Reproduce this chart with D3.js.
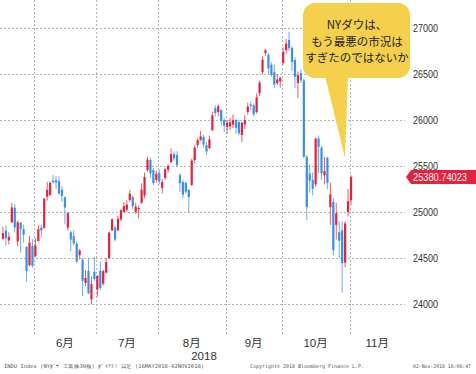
<!DOCTYPE html>
<meta charset="utf-8">
<style>
body { margin: 0; background: #fff; }
svg { display: block; font-family: "Liberation Sans", Arial, "Noto Sans CJK JP", sans-serif; }
.grid line { stroke: #b4b4b4; stroke-dasharray: 2,2; shape-rendering: crispEdges; }
.ylab { font-size: 11px; fill: #333; }
.mlab { font-size: 11.5px; fill: #333; }
.foot { font-size: 5px; fill: #555; font-family: "DejaVu Sans Mono", monospace; }
.note { font-family: "Noto Sans CJK JP", sans-serif; font-size: 11.5px; fill: #222; }
</style>
<body>
<script src="https://cdn.jsdelivr.net/npm/d3@7"></script>
<script>
// INDU Index daily candles, 16 May 2018 - 1 Nov 2018 (trading days only)
var dates = [
  "2018-05-16","2018-05-17","2018-05-18","2018-05-21","2018-05-22","2018-05-23","2018-05-24","2018-05-25","2018-05-29","2018-05-30","2018-05-31",
  "2018-06-01","2018-06-04","2018-06-05","2018-06-06","2018-06-07","2018-06-08","2018-06-11","2018-06-12","2018-06-13","2018-06-14","2018-06-15","2018-06-18","2018-06-19","2018-06-20","2018-06-21","2018-06-22","2018-06-25","2018-06-26","2018-06-27","2018-06-28","2018-06-29",
  "2018-07-02","2018-07-03","2018-07-05","2018-07-06","2018-07-09","2018-07-10","2018-07-11","2018-07-12","2018-07-13","2018-07-16","2018-07-17","2018-07-18","2018-07-19","2018-07-20","2018-07-23","2018-07-24","2018-07-25","2018-07-26","2018-07-27","2018-07-30","2018-07-31",
  "2018-08-01","2018-08-02","2018-08-03","2018-08-06","2018-08-07","2018-08-08","2018-08-09","2018-08-10","2018-08-13","2018-08-14","2018-08-15","2018-08-16","2018-08-17","2018-08-20","2018-08-21","2018-08-22","2018-08-23","2018-08-24","2018-08-27","2018-08-28","2018-08-29","2018-08-30","2018-08-31",
  "2018-09-04","2018-09-05","2018-09-06","2018-09-07","2018-09-10","2018-09-11","2018-09-12","2018-09-13","2018-09-14","2018-09-17","2018-09-18","2018-09-19","2018-09-20","2018-09-21","2018-09-24","2018-09-25","2018-09-26","2018-09-27","2018-09-28",
  "2018-10-01","2018-10-02","2018-10-03","2018-10-04","2018-10-05","2018-10-08","2018-10-09","2018-10-10","2018-10-11","2018-10-12","2018-10-15","2018-10-16","2018-10-17","2018-10-18","2018-10-19","2018-10-22","2018-10-23","2018-10-24","2018-10-25","2018-10-26","2018-10-29","2018-10-30","2018-10-31",
  "2018-11-01"
];
var open = [
  24710,24800,24690,24890,25047,24680,24884,24813,24620,24422,24630,
  24521,24684,24830,24826,25166,25185,25340,25346,25337,25240,25160,24830,24780,24737,24656,24530,24480,24230,24360,24050,24350,
  24160,24360,24220,24340,24500,24800,24830,24800,24920,25000,25025,25130,25163,25000,25030,25100,25180,25456,25565,25456,25348,
  25420,25261,25370,25460,25543,25630,25620,25400,25326,25315,25240,25294,25565,25728,25783,25815,25728,25695,25891,26130,26087,26108,26000,
  25924,25930,25950,26000,25978,25837,25950,26087,26170,26160,26087,26293,26522,26728,26706,26600,26520,26402,26420,
  26620,26761,26870,26783,26652,26402,26511,26430,25600,25420,25350,25300,25800,25700,25400,25590,25054,25110,24860,24780,24800,24450,25000,
  25130
];
var high = [
  24840,24858,24779,25100,25086,24906,24890,24863,24630,24742,24704,
  24716,24856,24860,25147,25325,25335,25402,25390,25387,25280,25170,25000,24800,24800,24680,24600,24500,24370,24500,24300,24510,
  24315,24460,24370,24500,24780,24930,24850,24960,25030,25110,25130,25240,25180,25100,25070,25310,25430,25600,25590,25480,25450,
  25460,25360,25480,25520,25692,25660,25660,25420,25350,25330,25250,25580,25720,25800,25880,25840,25760,25830,26090,26160,26170,26120,26020,
  26000,26020,26060,26010,26000,25980,26050,26190,26200,26180,26290,26430,26690,26770,26730,26630,26600,26500,26470,
  26790,26880,26957,26800,26680,26530,26550,26450,25620,25520,25430,25810,25830,25720,25600,25600,25320,25150,25100,24900,24900,24900,25250,
  25400
];
var low = [
  24690,24634,24646,24880,24776,24626,24558,24664,24241,24410,24393,
  24510,24680,24720,24820,25124,25174,25310,25250,25190,25108,24870,24800,24573,24640,24445,24480,24084,24190,24107,23997,24250,
  24080,24150,24200,24330,24490,24790,24680,24790,24900,24990,25000,25110,25030,24980,24930,25090,25150,25440,25370,25290,25320,
  25300,25200,25350,25430,25530,25560,25490,25220,25150,25200,25000,25280,25530,25700,25770,25700,25620,25680,25880,26040,26040,25940,25870,
  25850,25890,25910,25850,25830,25760,25900,26060,26110,26040,26070,26260,26500,26700,26500,26470,26350,26380,26350,
  26600,26720,26750,26530,26350,26239,26400,25590,24913,25210,25180,25270,25420,25350,25300,25250,24860,24530,24700,24500,24122,24400,24950,
  25080
];
var close = [
  24769,24714,24730,25050,24834,24887,24812,24753,24361,24668,24416,
  24635,24814,24800,25146,25241,25317,25322,25321,25201,25175,25050,24987,24700,24658,24462,24581,24253,24283,24118,24216,24271,
  24307,24175,24357,24456,24777,24920,24700,24925,25019,25064,25080,25199,25064,25058,25044,25242,25380,25570,25420,25315,25415,
  25334,25326,25463,25502,25629,25584,25509,25313,25188,25220,25162,25559,25700,25783,25822,25734,25657,25790,26050,26076,26150,25987,25940,
  25970,25975,25996,25917,25857,25971,25999,26146,26155,26062,26247,26406,26657,26760,26562,26492,26385,26440,26458,
  26740,26830,26780,26630,26470,26487,26431,25599,25053,25340,25251,25798,25707,25420,25444,25317,25191,24583,24985,24688,24443,24875,25116,
  25380.74023
];

var yTicks = [24000, 24500, 25000, 25500, 26000, 26500, 27000];
var monthNames = ["6月", "7月", "8月", "9月", "10月", "11月"];
var yearLabel = "2018";
var lastPrice = "25380.74023";
var noteLines = ["NYダウは、", "もう最悪の市況は", "すぎたのではないか"];
var footLeft = "INDU Index (NYﾀﾞｳ 工業株30種) ﾀﾞｲｱｽ! 日足 (16MAY2018-02NOV2018)";
var footMid = "Copyright\u00a9 2018 Bloomberg Finance L.P.";
var footRight = "02-Nov-2018 16:06:47";

var W = 476, H = 374,
    plotW = 405, plotH = 335;

var x = d3.scaleLinear().domain([-1, 136.3]).range([0, plotW]);
var y = d3.scaleLinear().domain([24000, 27000]).range([304, 28]);

var svg = d3.select("body").append("svg")
    .attr("width", W)
    .attr("height", H);

var data = dates.map(function(d, i) {
  return {date: d, i: i, o: open[i], h: high[i], l: low[i], c: close[i]};
});

// month boundaries: half a bar before the first trading day of each month
var starts = [];
data.forEach(function(d, i) {
  if (i > 0 && d.date.slice(5, 7) !== data[i - 1].date.slice(5, 7)) starts.push(i - 0.5);
});
var ends = starts.slice(1).concat([x.domain()[1]]);

// grid
var grid = svg.append("g").attr("class", "grid");
grid.selectAll(".h")
    .data(yTicks)
  .enter().append("line")
    .attr("x1", 0).attr("x2", plotW)
    .attr("y1", function(d) { return Math.round(y(d)) + 0.5; })
    .attr("y2", function(d) { return Math.round(y(d)) + 0.5; });
grid.selectAll(".v")
    .data(starts)
  .enter().append("line")
    .attr("y1", 0).attr("y2", plotH)
    .attr("x1", function(d) { return Math.round(x(d)) + 0.5; })
    .attr("x2", function(d) { return Math.round(x(d)) + 0.5; });

// candles
var red = "#e5213d", blue = "#3b8fe5";
var candle = svg.append("g").selectAll("g")
    .data(data)
  .enter().append("g");

candle.append("line")
    .attr("x1", function(d) { return x(d.i); })
    .attr("x2", function(d) { return x(d.i); })
    .attr("y1", function(d) { return y(d.h); })
    .attr("y2", function(d) { return y(d.l); })
    .attr("stroke", function(d) { return d.c >= d.o ? red : blue; })
    .attr("stroke-opacity", 0.75)
    .attr("stroke-width", 1);

candle.append("rect")
    .attr("x", function(d) { return x(d.i) - 1.1; })
    .attr("width", 2.2)
    .attr("y", function(d) { return y(Math.max(d.o, d.c)); })
    .attr("height", function(d) { return Math.max(1, Math.abs(y(d.o) - y(d.c))); })
    .attr("fill", function(d) { return d.c >= d.o ? red : blue; });

// y labels (narrow digits like the original)
svg.selectAll(".ylab")
    .data(yTicks)
  .enter().append("text")
    .attr("class", "ylab")
    .attr("x", 413)
    .attr("y", function(d) { return y(d); })
    .attr("dy", "0.36em")
    .attr("textLength", 25)
    .attr("lengthAdjust", "spacingAndGlyphs")
    .text(function(d) { return d; });

// month labels
svg.selectAll(".mlab")
    .data(monthNames)
  .enter().append("text")
    .attr("class", "mlab")
    .attr("x", function(d, i) { return x((starts[i] + ends[i]) / 2); })
    .attr("y", 347)
    .attr("text-anchor", "middle")
    .text(function(d) { return d; });

svg.append("text")
    .attr("class", "mlab")
    .attr("x", 204)
    .attr("y", 360)
    .attr("text-anchor", "middle")
    .text(yearLabel);

// last price tag
var ly = y(close[close.length - 1]);
svg.append("path")
    .attr("d", "M406," + ly + "L411," + (ly - 7) + "H476V" + (ly + 7) + "H411Z")
    .attr("fill", red);
svg.append("text")
    .attr("class", "ylab")
    .attr("x", 413)
    .attr("y", ly)
    .attr("dy", "0.36em")
    .attr("textLength", 54)
    .attr("lengthAdjust", "spacingAndGlyphs")
    .style("fill", "#fff")
    .text(lastPrice);

// callout
var note = svg.append("g");
note.append("path")
    .attr("d", "M325,76L345,158L348,76Z")
    .attr("fill", "#f4d04c");
note.append("rect")
    .attr("x", 303).attr("y", 3)
    .attr("width", 107).attr("height", 75)
    .attr("rx", 12)
    .attr("fill", "#f4d04c");
note.selectAll("text")
    .data(noteLines)
  .enter().append("text")
    .attr("class", "note")
    .attr("x", 357)
    .attr("y", function(d, i) { return 29 + i * 16.5; })
    .attr("text-anchor", "middle")
    .text(function(d) { return d; });

// footer
svg.append("text").attr("class", "foot").attr("x", 4).attr("y", 368)
    .attr("textLength", 200).attr("lengthAdjust", "spacingAndGlyphs").text(footLeft);
svg.append("text").attr("class", "foot").attr("x", 250).attr("y", 368)
    .attr("textLength", 114).attr("lengthAdjust", "spacingAndGlyphs").text(footMid);
svg.append("text").attr("class", "foot").attr("x", 413).attr("y", 368)
    .attr("textLength", 58).attr("lengthAdjust", "spacingAndGlyphs").text(footRight);
</script>
</body>
</html>
